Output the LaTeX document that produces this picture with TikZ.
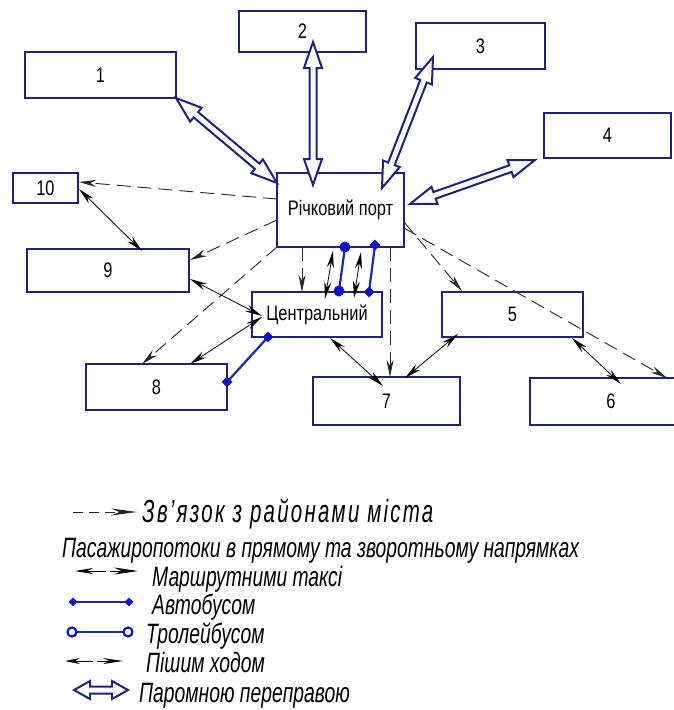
\documentclass[tikz,border=0pt]{standalone}
\usepackage{fontspec}
\newfontfamily\gost[FakeStretch=0.78]{Liberation Sans}
\newfontfamily\gostnarrow[FakeStretch=0.69]{Liberation Sans}
\newfontfamily\gosttitle[FakeStretch=0.64]{Liberation Sans}
\usetikzlibrary{arrows.meta,calc,shapes.geometric}
\definecolor{framenavy}{RGB}{30,34,120}
\definecolor{busblue}{RGB}{30,40,165}
\definecolor{dotblue}{RGB}{15,20,200}

\tikzset{
  box/.style={draw=framenavy, line width=2.4pt, inner sep=0pt,
    font=\gost\fontsize{21}{23}\selectfont},
  ferry/.style={draw=framenavy, line width=2pt, fill=white, line join=miter},
  city/.style={draw=black!85, line width=0.9pt, dash pattern=on 14pt off 7pt,
    -{Stealth[length=17pt,width=7pt]}},
  walk/.style={draw=black, line width=0.8pt,
    {Stealth[length=17pt,width=7pt]}-{Stealth[length=17pt,width=7pt]}},
  busline/.style={draw=busblue, line width=2.2pt},
  busdot/.style={diamond, fill=dotblue, minimum size=11pt, inner sep=0pt},
  trolleydot/.style={circle, fill=dotblue, minimum size=11pt, inner sep=0pt},
  trolleyring/.style={circle, draw=dotblue, fill=white, line width=2.2pt,
    minimum size=9pt, inner sep=0pt},
  legend/.style={anchor=base west, inner sep=0pt,
    font=\gostnarrow\itshape\fontsize{28}{30}\selectfont},
}

% double outlined two-headed arrow between two named points
% #1 head length, #2 and #3 the end points
\newcommand\ferrylink[3][26pt]{%
  \draw[ferry] (#2)
    -- ($(#2)!#1!(#3)!9pt!90:(#3)$)
    -- ($(#2)!#1!(#3)!3.5pt!90:(#3)$)
    -- ($(#3)!#1!(#2)!3.5pt!90:(#3)$)
    -- ($(#3)!#1!(#2)!9pt!90:(#3)$)
    -- (#3)
    -- ($(#3)!#1!(#2)!9pt!-90:(#3)$)
    -- ($(#3)!#1!(#2)!3.5pt!-90:(#3)$)
    -- ($(#2)!#1!(#3)!3.5pt!-90:(#3)$)
    -- ($(#2)!#1!(#3)!9pt!-90:(#3)$)
    -- cycle;}

\begin{document}
\begin{tikzpicture}[x=1pt,y=-1pt]
\useasboundingbox (0,0) rectangle (673,710);

% ---- districts and terminals
\node[box, minimum width=151pt, minimum height=46pt] (b1) at (100.5,75) {1};
\node[box, minimum width=127pt, minimum height=41pt] (b2) at (302.5,31.5) {2};
\node[box, minimum width=129pt, minimum height=46pt] (b3) at (480.5,46) {3};
\node[box, minimum width=127pt, minimum height=45pt] (b4) at (607.5,135.5) {4};
\node[box, minimum width=65pt, minimum height=30pt] (b10) at (45.5,188) {10};
\node[box, minimum width=162pt, minimum height=43pt] (b9) at (108,270.5) {9};
\node[box, minimum width=127pt, minimum height=74pt] (port) at (340.5,210) {Річковий порт};
\node[box, minimum width=130pt, minimum height=45pt] (cen) at (317,314.5) {Центральний};
\node[box, minimum width=141pt, minimum height=46pt] (b8) at (156.5,387) {8};
\node[box, minimum width=147pt, minimum height=48pt] (b7) at (386.5,401) {7};
\node[box, minimum width=141pt, minimum height=45pt] (b5) at (512.5,314.5) {5};
\node[box, minimum width=162pt, minimum height=47pt] (b6) at (611,401.5) {6};

% ---- connector end points
\coordinate (f1a) at (176,98);   \coordinate (f1b) at (277,183);
\coordinate (f2a) at (313,42);   \coordinate (f2b) at (313,185);
\coordinate (f3a) at (433,57);   \coordinate (f3b) at (382,188);
\coordinate (f4a) at (535,160);  \coordinate (f4b) at (410,204);

\coordinate (c10a) at (277,199); \coordinate (c10b) at (79,182);
\coordinate (c9a) at (277,220);  \coordinate (c9b) at (190,260);
\coordinate (c8a) at (277,247);  \coordinate (c8b) at (142,364);
\coordinate (cca) at (302,247);  \coordinate (ccb) at (302,292);
\coordinate (c7a) at (390,247);  \coordinate (c7b) at (390,377);
\coordinate (c5a) at (404,222);  \coordinate (c5b) at (462,291);
\coordinate (c6a) at (404,228);  \coordinate (c6b) at (667,378);

\coordinate (w1a) at (79,189);   \coordinate (w1b) at (142,251);
\coordinate (w2a) at (190,279);  \coordinate (w2b) at (262,316);
\coordinate (w3a) at (190,364);  \coordinate (w3b) at (262,317);
\coordinate (w4a) at (330,338);  \coordinate (w4b) at (383,386);
\coordinate (w5a) at (458,334);  \coordinate (w5b) at (405,378);
\coordinate (w6a) at (572,338);  \coordinate (w6b) at (621,384);
\coordinate (w7a) at (333,251);  \coordinate (w7b) at (325,299);
\coordinate (w8a) at (361,252);  \coordinate (w8b) at (354,298);

\coordinate (a1a) at (227,382);  \coordinate (a1b) at (268,337);
\coordinate (a2a) at (375,245);  \coordinate (a2b) at (369,292);
\coordinate (t1a) at (345,247);  \coordinate (t1b) at (339,291);

% ---- links with the city districts
\foreach \n in {c10,c9,c8,cc,c7,c5,c6}
  \draw[city] (\n a) -- (\n b);

% ---- two-way passenger flows
\foreach \n in {w1,w2,w3,w4,w5,w6,w7,w8}
  \draw[walk] (\n a) -- (\n b);

% bus routes
\foreach \n in {a1,a2}{
  \draw[busline] (\n a) -- (\n b);
  \node[busdot] at (\n a) {};
  \node[busdot] at (\n b) {};
}
% trolleybus route
\draw[busline] (t1a) -- (t1b);
\node[trolleydot] at (t1a) {};
\node[trolleydot] at (t1b) {};

% ferry crossings
\ferrylink{f1a}{f1b}
\ferrylink{f2a}{f2b}
\ferrylink{f3a}{f3b}
\ferrylink{f4a}{f4b}

% ---- legend
\coordinate (l1a) at (73,512);  \coordinate (l1b) at (137,512);
\draw[city, dash pattern=on 10pt off 6pt, -{Stealth[length=26pt,width=7pt]}] (l1a) -- (l1b);
\node[legend, font=\gosttitle\itshape\fontsize{32}{34}\selectfont\addfontfeature{LetterSpace=7}]
  (t1) at (142,522) {Зв’язок з районами міста};
\node[legend] (t2) at (62,557) {Пасажиропотоки в прямому та зворотньому напрямках};

\coordinate (l3a) at (75,571);  \coordinate (l3m) at (106,571);
\coordinate (l3n) at (110,571); \coordinate (l3b) at (138,571);
\draw[line width=0.9pt, -{Stealth[length=18pt,width=6pt]}] (l3m) -- (l3a);
\draw[line width=0.9pt, -{Stealth[length=24pt,width=7pt]}] (l3n) -- (l3b);
\node[legend] (t3) at (152,586) {Маршрутними таксі};

\coordinate (l4a) at (73,602);  \coordinate (l4b) at (129,602);
\draw[busline] (l4a) -- (l4b);
\node[busdot, minimum size=9pt] at (l4a) {};
\node[busdot, minimum size=9pt] at (l4b) {};
\node[legend] (t4) at (152,614) {Автобусом};

\coordinate (l5a) at (72,632);  \coordinate (l5b) at (128,632);
\draw[busline] (l5a) -- (l5b);
\node[trolleyring] at (l5a) {};
\node[trolleyring] at (l5b) {};
\node[legend] (t5) at (146,643) {Тролейбусом};

\coordinate (l6a) at (65,661);  \coordinate (l6m) at (93,661);
\coordinate (l6n) at (97,661);  \coordinate (l6b) at (123,661);
\draw[line width=0.9pt, -{Stealth[length=15pt,width=6pt]}] (l6m) -- (l6a);
\draw[line width=0.9pt, -{Stealth[length=20pt,width=6pt]}] (l6n) -- (l6b);
\node[legend] (t6) at (146,672) {Пішим ходом};

\coordinate (l7a) at (74,690);  \coordinate (l7b) at (128,690);
\ferrylink[16pt]{l7a}{l7b}
\node[legend] (t7) at (139,702) {Паромною переправою};
\end{tikzpicture}
\end{document}
